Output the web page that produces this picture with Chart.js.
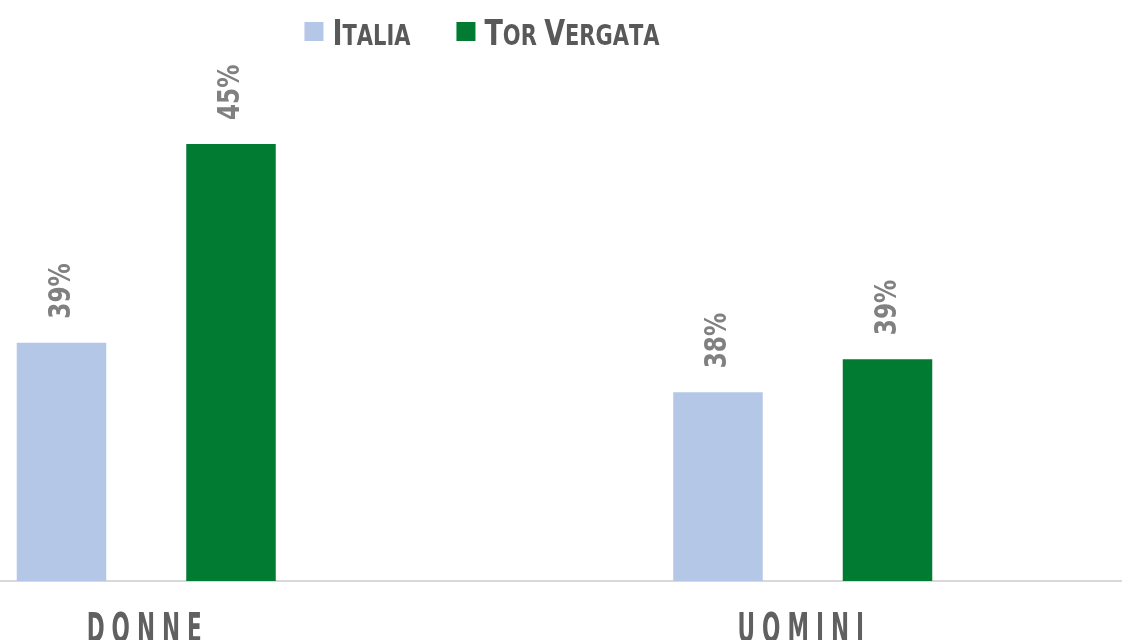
<!DOCTYPE html>
<html><head><meta charset="utf-8">
<script src="https://cdn.jsdelivr.net/npm/chart.js@4.4.1/dist/chart.umd.min.js"></script>
<style>
html,body{margin:0;padding:0;background:#fff;overflow:hidden;width:1122px;height:640px;}
#wrap{position:absolute;left:-182px;top:0;width:1328px;height:640px;}
</style></head><body>
<div id="wrap"><canvas id="c" width="1328" height="640"></canvas></div>
<script>
const categories = ['DONNE', 'UOMINI'];
const seriesNames = ['Italia', 'Tor Vergata'];
const italia = [39.2, 37.7];
const torVergata = [45.2, 38.7];
const seriesColors = ['#b4c7e7', '#017b32'];
const yMin = 32;
const yMax = 47.74;

const FONT = '"Liberation Sans Narrow","DejaVu Sans Condensed",sans-serif';

function smallCaps(ctx, text, big, small, draw) {
  let cx = 0;
  const words = text.split(' ');
  words.forEach((w, wi) => {
    for (let i = 0; i < w.length; i++) {
      const size = i === 0 ? big : small;
      ctx.font = `bold ${size}px ${FONT}`;
      const ch = w[i].toUpperCase();
      if (draw) ctx.fillText(ch, cx, 0);
      cx += ctx.measureText(ch).width;
    }
    if (wi < words.length - 1) {
      ctx.font = `bold ${small}px ${FONT}`;
      cx += ctx.measureText(' ').width;
    }
  });
  return cx;
}

const decorPlugin = {
  id: 'decor',
  afterDatasetsDraw(chart) {
    const ctx = chart.ctx;
    // data labels
    chart.data.datasets.forEach((ds, di) => {
      const meta = chart.getDatasetMeta(di);
      meta.data.forEach((bar, i) => {
        ctx.save();
        ctx.translate(bar.x, bar.y - 24);
        ctx.rotate(-Math.PI / 2);
        ctx.scale(0.83, 1);
        ctx.font = `bold 31px ${FONT}`;
        ctx.fillStyle = '#808080';
        ctx.textAlign = 'left';
        ctx.textBaseline = 'middle';
        ctx.fillText(Math.round(ds.data[i]) + '%', 0, 0);
        ctx.restore();
      });
    });
    // category labels
    const xs = chart.scales.x;
    const sx = 0.6, sp = 7;
    categories.forEach((c, i) => {
      const x = xs.getPixelForTick(i);
      ctx.save();
      ctx.font = `bold 40px ${FONT}`;
      ctx.letterSpacing = (sp / sx) + 'px';
      const w = (ctx.measureText(c).width) * sx - sp;
      ctx.translate(x - w / 2 - 2, 642);
      ctx.scale(sx, 1);
      ctx.fillStyle = '#606060';
      ctx.textAlign = 'left';
      ctx.textBaseline = 'alphabetic';
      ctx.fillText(c, 0, 0);
      ctx.restore();
    });
    // legend
    const lsx = 0.833, big = 36, small = 28, box = 19, gapBox = 9, gapItem = 46;
    const widths = seriesNames.map(n => smallCaps(ctx, n, big, small, false) * lsx);
    const total = widths.reduce((a, b) => a + b, 0) + seriesNames.length * (box + gapBox) + gapItem * (seriesNames.length - 1);
    let lx = chart.width / 2 - total / 2;
    seriesNames.forEach((n, i) => {
      ctx.save();
      ctx.fillStyle = seriesColors[i];
      ctx.fillRect(lx, 22, box, box);
      lx += box + gapBox;
      ctx.translate(lx, 45);
      ctx.scale(lsx, 1);
      ctx.fillStyle = '#595959';
      ctx.textAlign = 'left';
      ctx.textBaseline = 'alphabetic';
      smallCaps(ctx, n, big, small, true);
      ctx.restore();
      lx += widths[i] + gapItem;
    });
  }
};

new Chart(document.getElementById('c'), {
  type: 'bar',
  data: {
    labels: categories,
    datasets: [
      { label: seriesNames[0], data: italia, backgroundColor: seriesColors[0], borderWidth: 0,
        categoryPercentage: 0.5164, barPercentage: 0.528 },
      { label: seriesNames[1], data: torVergata, backgroundColor: seriesColors[1], borderWidth: 0,
        categoryPercentage: 0.5164, barPercentage: 0.528 }
    ]
  },
  options: {
    responsive: false,
    animation: false,
    devicePixelRatio: 1,
    layout: { padding: { left: 0, right: 15, top: 60, bottom: 59 } },
    plugins: { legend: { display: false }, tooltip: { enabled: false } },
    scales: {
      x: {
        grid: { display: false, drawTicks: false },
        border: { display: true, color: '#d9d9d9', width: 2 },
        ticks: { display: false }
      },
      y: {
        display: false,
        min: yMin,
        max: yMax
      }
    }
  },
  plugins: [decorPlugin]
});
</script>
</body></html>
